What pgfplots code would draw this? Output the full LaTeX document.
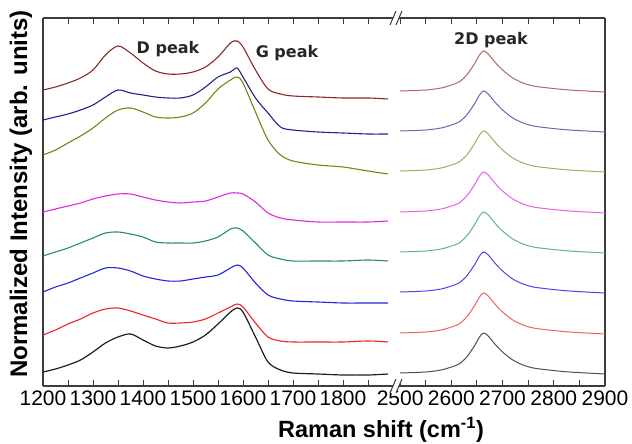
\documentclass[border=0pt]{standalone}
\usepackage{fontspec}
\setmainfont{Liberation Sans}
\newfontfamily\annotfont{DejaVu Sans}
\usepackage{pgfplots}
\usepackage{pgfplotstable}
\pgfplotsset{compat=1.18}

\definecolor{cA}{RGB}{140,40,40}
\definecolor{cB}{RGB}{34,34,138}
\definecolor{cC}{RGB}{128,128,20}
\definecolor{cD}{RGB}{225,40,225}
\definecolor{cE}{RGB}{40,135,120}
\definecolor{cF}{RGB}{35,35,225}
\definecolor{cG}{RGB}{240,35,35}
\definecolor{cH}{RGB}{30,30,30}
\definecolor{lA}{RGB}{176,104,104}
\definecolor{lB}{RGB}{104,104,176}
\definecolor{lC}{RGB}{168,168,96}
\definecolor{lD}{RGB}{232,96,232}
\definecolor{lE}{RGB}{96,176,160}
\definecolor{lF}{RGB}{72,72,232}
\definecolor{lG}{RGB}{240,96,96}
\definecolor{lH}{RGB}{80,80,80}
\definecolor{frame}{RGB}{60,60,60}

% D and G band region (1200-1890 cm^-1), stacked, arbitrary units
\pgfplotstableread{
x    s1  s2  s3  s4  s5  s6  s7  s8
1200 296 266 231 174 130 94  51  14
1225 299 269 236 177 134 99  56  17
1250 303 272 243 180 138 103 62  21
1275 308 276 250 183 143 108 67  26
1300 316 281 258 187 148 113 73  34
1325 331 289 268 190 153 118 77  43
1350 340 296 276 192 154 118 78  49
1375 333 293 278 192 152 115 75  52
1400 323 291 274 189 149 110 71  46
1425 315 289 269 186 144 107 67  40
1450 312 288 268 184 143 105 63  38
1475 312 288 269 183 143 105 63  40
1500 314 291 273 184 143 107 64  44
1525 319 299 283 185 145 109 67  51
1550 329 309 297 189 149 111 73  62
1575 343 314 306 193 157 118 79  74
1588 345 318 309 193 158 121 82  78
1600 339 309 303 192 155 118 79  74
1625 316 288 274 184 143 103 63  49
1650 297 273 246 173 131 91  49  24
1675 292 259 231 168 127 87  45  16
1700 290 256 225 166 125 85  44  13
1750 289 254 221 164 125 84  44  12
1800 288 253 219 164 125 83  44  11
1850 288 252 215 164 126 83  45  11
1890 287 252 212 165 125 83  44  12
}\dgtable

% 2D band region (2500-2900 cm^-1)
\pgfplotstableread{
x s1 s2 s3 s4 s5 s6 s7 s8
2500 295 255 215 174 134 94 53 13
2550 296 256 216 175 135 95 54 14
2580 298 258 218 177 137 97 56 16
2600 301 261 221 180 140 100 59 19
2615 304 264 224 183 143 103 62 22
2630 311 271 231 190 150 110 69 29
2645 322 282 242 201 161 121 80 40
2655 331 291 251 210 170 130 89 49
2663 335 295 255 214 174 134 93 53
2672 332 292 252 211 171 131 90 50
2685 324 284 244 203 163 123 82 42
2700 316 276 236 195 155 115 74 34
2720 308 268 228 187 147 107 66 26
2740 303 263 223 182 142 102 61 21
2760 300 260 220 179 139 99 58 18
2790 298 258 218 177 137 97 56 16
2830 296 256 216 175 135 95 54 14
2900 294 254 214 173 133 93 52 12
}\twodtable

\pgfplotsset{
  brk/.style={
    scale only axis, anchor=south west, height=368pt,
    ymin=0, ymax=368, ytick=\empty,
    tick align=inside,
    major tick length=6pt, minor tick length=6pt,
    axis line style={frame, line width=1.2pt},
    every tick/.style={frame, line width=1pt},
    /pgf/number format/assume math mode=true,
    /pgf/number format/1000 sep={},
    xticklabel style={font=\fontsize{21}{21}\selectfont, yshift=-1pt},
    no markers, every axis plot/.append style={smooth, tension=0.5},
  }
}

\begin{document}
\begin{tikzpicture}[x=1pt,y=1pt]
\useasboundingbox (0,0) rectangle (632,444);

\begin{axis}[brk, at={(43pt,58pt)}, width=352pt,
  xmin=1200, xmax=1904,
  axis y line*=left, axis x line*=box,
  xtick={1200,1300,...,1800}, minor xtick={1250,1350,...,1850}]
\addplot[cA, line width=1.1pt] table[x=x,y=s1] {\dgtable};
\addplot[cB, line width=1.1pt] table[x=x,y=s2] {\dgtable};
\addplot[cC, line width=1.1pt] table[x=x,y=s3] {\dgtable};
\addplot[cD, line width=1.1pt] table[x=x,y=s4] {\dgtable};
\addplot[cE, line width=1.1pt] table[x=x,y=s5] {\dgtable};
\addplot[cF, line width=1.1pt] table[x=x,y=s6] {\dgtable};
\addplot[cG, line width=1.1pt] table[x=x,y=s7] {\dgtable};
\addplot[cH, line width=1.2pt] table[x=x,y=s8] {\dgtable};
\end{axis}

\begin{axis}[brk, at={(395pt,58pt)}, width=210pt,
  xmin=2490, xmax=2900,
  axis y line*=right, axis x line*=box,
  xtick={2500,2600,...,2900}, minor xtick={2550,2650,...,2850}]
\addplot[lA, line width=1pt] table[x=x,y=s1] {\twodtable};
\addplot[lB, line width=1pt] table[x=x,y=s2] {\twodtable};
\addplot[lC, line width=1pt] table[x=x,y=s3] {\twodtable};
\addplot[lD, line width=1pt] table[x=x,y=s4] {\twodtable};
\addplot[lE, line width=1pt] table[x=x,y=s5] {\twodtable};
\addplot[lF, line width=1pt] table[x=x,y=s6] {\twodtable};
\addplot[lG, line width=1pt] table[x=x,y=s7] {\twodtable};
\addplot[lH, line width=1pt] table[x=x,y=s8] {\twodtable};
\end{axis}

% axis break marks
\foreach \yy in {426,58}{
  \fill[white] (390,\yy-7) -- (396,\yy+7) -- (402,\yy+7) -- (396,\yy-7) -- cycle;
  \draw[frame, line width=1pt] (390,\yy-7) -- (396,\yy+7);
  \draw[frame, line width=1pt] (396,\yy-7) -- (402,\yy+7);
}

\node[font=\annotfont\bfseries\fontsize{16}{16}\selectfont, text=black!85] at (168,395) {D peak};
\node[font=\annotfont\bfseries\fontsize{16}{16}\selectfont, text=black!85] at (287,391) {G peak};
\node[font=\annotfont\bfseries\fontsize{16}{16}\selectfont, text=black!85] at (491,404) {2D peak};

\node[font=\bfseries\fontsize{24}{24}\selectfont, rotate=90] at (21,250) {Normalized Intensity (arb. units)};
\node[font=\bfseries\fontsize{23.5}{23.5}\selectfont] at (381,14) {Raman shift (cm\textsuperscript{-1})};
\end{tikzpicture}
\end{document}
